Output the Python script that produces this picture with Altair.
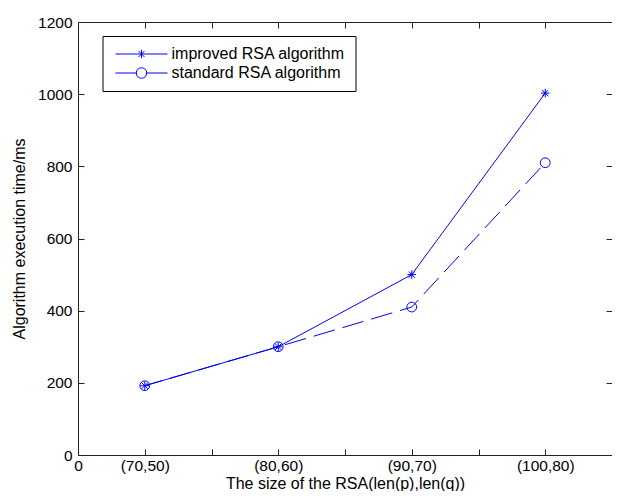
import altair as alt
import pandas as pd

# ---- data ----
categories = ["(70,50)", "(80,60)", "(90,70)", "(100,80)"]
cat_pos = [0.5, 1.5, 2.5, 3.5]
improved_ms = [192, 300, 500, 1003]
standard_ms = [192, 300, 410, 810]
series = ["improved RSA algorithm", "standard RSA algorithm"]
y_ticks = [0, 200, 400, 600, 800, 1000, 1200]
x_ticks = [0, 0.5, 1, 1.5, 2, 2.5, 3, 3.5, 4]

rows = []
for name, vals in zip(series, [improved_ms, standard_ms]):
    for c, p, v in zip(categories, cat_pos, vals):
        rows.append({"series": name, "size": c, "pos": p, "time": v})
df = pd.DataFrame(rows)

W, H = 534, 433
BLUE = "#0000ff"
FONT = "Liberation Sans"
AX = "#222222"

label_expr = ("datum.value == 0 ? '0' : "
              + " : ".join(f"datum.value == {p} ? '{c}'" for p, c in zip(cat_pos, categories))
              + " : ''")

STAR = "M-1,0H1M0,-1V1M-0.72,-0.72L0.72,0.72M-0.72,0.72L0.72,-0.72"
LEG_STAR = "M-5.2,0H5.2M0,-0.85V0.85M-0.6,-0.6L0.6,0.6M-0.6,0.6L0.6,-0.6"
LEG_CIRC = "M-5.2,0H-1.05M1.05,0H5.2M-1.05,0A1.05,1.05 0 1,0 1.05,0A1.05,1.05 0 1,0 -1.05,0"

x_enc = alt.X(
    "pos:Q",
    scale=alt.Scale(domain=[0, 4], nice=False, zero=False),
    axis=alt.Axis(
        values=x_ticks, labelExpr=label_expr, title="The size of the RSA(len(p),len(q))",
        grid=True, gridDash=[6, H - 12], gridColor=AX, gridOpacity=1, gridWidth=1,
        ticks=False, domain=False, labelPadding=3, labelFontSize=15.5, labelFont=FONT,
        labelColor="black", titleFont=FONT, titleFontSize=16, titleFontWeight="normal",
        titleColor="black", titlePadding=2, labelFlush=False, labelOverlap=False,
    ),
)
y_enc = alt.Y(
    "time:Q",
    scale=alt.Scale(domain=[0, 1200], nice=False),
    axis=alt.Axis(
        values=y_ticks, format="d", title="Algorithm execution time/ms",
        grid=True, gridDash=[6, W - 12], gridColor=AX, gridOpacity=1, gridWidth=1,
        ticks=False, domain=False, labelPadding=6, labelFontSize=15.5, labelFont=FONT,
        labelColor="black", titleFont=FONT, titleFontSize=16, titleFontWeight="normal",
        titleColor="black", titlePadding=10, labelFlush=False, labelOverlap=False,
    ),
)

base = alt.Chart(df)
imp = base.transform_filter(alt.datum.series == series[0])
std = base.transform_filter(alt.datum.series == series[1])

line_imp = imp.mark_line(color=BLUE, strokeWidth=1).encode(x=x_enc, y=y_enc)
line_std = std.mark_line(color=BLUE, strokeWidth=1, strokeDash=[22, 8], strokeDashOffset=4).encode(x=x_enc, y=y_enc)

pts_imp = imp.mark_point(
    shape=STAR, size=74, filled=False, color=BLUE, strokeWidth=1, opacity=1
).encode(x=x_enc, y=y_enc)

pts_std = std.mark_point(
    shape="circle", size=95, filled=False, color=BLUE, strokeWidth=1, opacity=1
).encode(x=x_enc, y=y_enc)

legend_layer = base.mark_point(
    filled=False, color=BLUE, strokeWidth=1, opacity=0
).encode(
    x=x_enc, y=y_enc,
    shape=alt.Shape(
        "series:N",
        scale=alt.Scale(domain=series, range=[LEG_STAR, LEG_CIRC]),
        legend=alt.Legend(
            title=None, orient="none", legendX=24.5, legendY=14,
            symbolSize=100, symbolOffset=21, labelOffset=22, padding=10, rowPadding=3,
            strokeColor="black", labelFont=FONT, labelFontSize=16, labelColor="black",
            labelLimit=400, symbolStrokeColor=BLUE, symbolStrokeWidth=1, symbolOpacity=1,
        ),
    ),
)

chart = alt.layer(line_imp, line_std, pts_imp, pts_std, legend_layer).properties(
    width=W, height=H,
    autosize=alt.AutoSizeParams(type="none"),
    padding={"left": 70, "top": 14, "right": 0, "bottom": 36},
).configure_view(stroke=AX, strokeWidth=1).configure_legend(strokeWidth=1)

chart.save("out.html", embed_options={"renderer": "svg", "actions": False})
